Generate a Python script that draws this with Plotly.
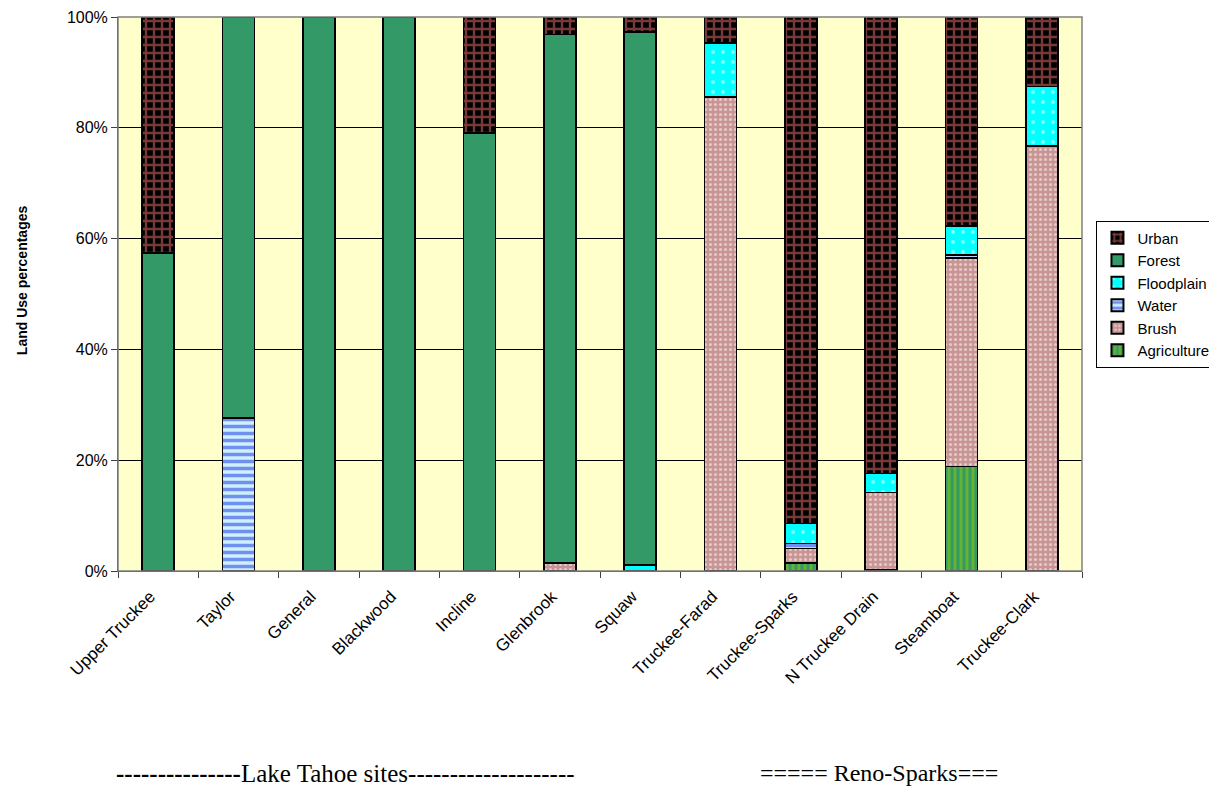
import plotly.graph_objects as go

categories = ["Upper Truckee", "Taylor", "General", "Blackwood", "Incline", "Glenbrook",
              "Squaw", "Truckee-Farad", "Truckee-Sparks", "N Truckee Drain", "Steamboat", "Truckee-Clark"]

agriculture = [0, 0, 0, 0, 0, 0, 0, 0, 1.4, 0.3, 18.9, 0]
brush       = [0, 0, 0, 0, 0, 1.4, 0, 85.6, 2.7, 13.9, 37.6, 76.7]
water       = [0, 27.6, 0, 0, 0, 0, 0, 0, 0.9, 0, 0.5, 0]
floodplain  = [0, 0, 0, 0, 0, 0, 1.1, 9.7, 3.6, 3.4, 5.3, 10.8]
forest      = [57.4, 72.4, 100, 100, 79.1, 95.4, 96.2, 0, 0, 0, 0, 0]
urban       = [42.6, 0, 0, 0, 20.9, 3.2, 2.7, 4.7, 91.4, 82.4, 37.7, 12.5]

y_ticks = [0, 20, 40, 60, 80, 100]
y_tick_labels = ["0%", "20%", "40%", "60%", "80%", "100%"]

series = [
    ("Agriculture", agriculture, "#339966",
     dict(fillmode="overlay", shape="|", fgcolor="#99cc00", size=6, solidity=0.5)),
    ("Brush", brush, "#c99494",
     dict(fillmode="overlay", shape=".", fgcolor="#ffffff", size=5, solidity=0.3)),
    ("Water", water, "#d0f0ff",
     dict(fillmode="overlay", shape="-", fgcolor="#1030e0", size=7, solidity=0.5)),
    ("Floodplain", floodplain, "#00ffff",
     dict(fillmode="overlay", shape=".", fgcolor="#ffffff", size=10, solidity=0.12)),
    ("Forest", forest, "#339966", None),
    ("Urban", urban, "#000000",
     dict(fillmode="overlay", shape="+", fgcolor="#f07272", size=8, solidity=0.5)),
]

fig = go.Figure()
for name, vals, col, pat in series:
    marker = dict(color=col, line=dict(color="#000000", width=1.5))
    if pat:
        marker["pattern"] = pat
    fig.add_trace(go.Bar(name=name, x=categories, y=vals, marker=marker, width=0.4))

# page body adds an 8px offset; margins compensate
fig.update_layout(
    template="none",
    barmode="stack",
    width=1217, height=787,
    margin=dict(l=110, r=143, t=9, b=224, autoexpand=False),
    paper_bgcolor="white",
    plot_bgcolor="#ffffcc",
    font=dict(family="Arial, Liberation Sans, sans-serif", size=15, color="black"),
    showlegend=True,
    legend=dict(traceorder="reversed", x=1.015, y=0.5, xanchor="left", yanchor="middle",
                bordercolor="black", borderwidth=1, bgcolor="white",
                font=dict(size=15), itemsizing="constant", itemwidth=30, tracegroupgap=0),
    xaxis=dict(tickangle=-45, ticks="outside", tickson="boundaries", ticklen=6,
               tickcolor="#404040", automargin=False,
               ticklabelstandoff=8, ticklabelshift=-8,
               showline=True, linecolor="#404040", linewidth=1,
               tickfont=dict(size=17), showgrid=False),
    yaxis=dict(range=[0, 100], tickvals=y_ticks, ticktext=y_tick_labels, automargin=False,
               ticks="outside", ticklen=6, tickcolor="#404040",
               showline=True, linecolor="#404040", linewidth=1,
               gridcolor="black", gridwidth=1, tickfont=dict(size=16), zeroline=False),
    shapes=[dict(type="rect", xref="paper", yref="paper", x0=0, x1=1, y0=0, y1=1,
                 line=dict(color="#808080", width=1.5), fillcolor="rgba(0,0,0,0)", layer="above")],
    annotations=[
        dict(text="<b>Land Use percentages</b>", xref="paper", yref="paper",
             x=-0.0996, y=0.525, textangle=-90, showarrow=False,
             xanchor="center", yanchor="middle", font=dict(size=14)),
        dict(text="<b>---------------</b>Lake Tahoe sites--------------------", xref="paper", yref="paper",
             x=-0.004, y=-0.365, xanchor="left", yanchor="middle", showarrow=False,
             font=dict(family="Liberation Serif, Times New Roman, serif", size=25)),
        dict(text="===== Reno-Sparks===", xref="paper", yref="paper",
             x=0.664, y=-0.365, xanchor="left", yanchor="middle", showarrow=False,
             font=dict(family="Liberation Serif, Times New Roman, serif", size=24)),
    ],
)

fig.write_html("out.html")
